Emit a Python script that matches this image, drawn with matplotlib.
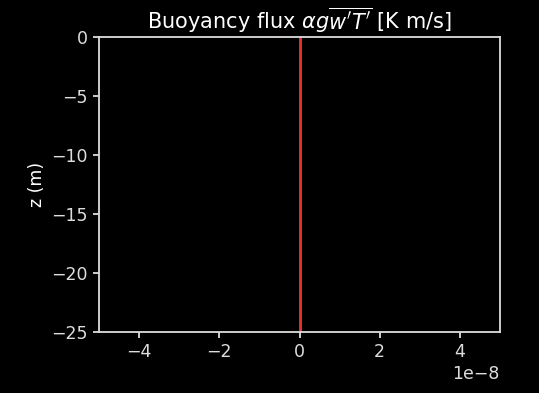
import matplotlib.pyplot as plt
import numpy as np

plt.style.use('dark_background')
plt.rcParams['font.size'] = 12.5

# depth levels and buoyancy flux profile (zero everywhere)
z = [0, -5, -10, -15, -20, -25]
flux_initial = [0, 0, 0, 0, 0, 0]
flux = [0, 0, 0, 0, 0, 0]

fig = plt.figure(figsize=(5.39, 3.93), dpi=100)
ax = fig.add_axes([99 / 539, 61 / 393, 401 / 539, 295 / 393])

ax.plot(flux_initial, z, color='#1f1f6f', lw=2)
ax.plot(flux, z, color='#e0362f', lw=2)

ax.set_xlim(-5e-8, 5e-8)
ax.set_ylim(-25, 0)
ax.set_ylabel('z (m)')
ax.set_title(r"Buoyancy flux $\alpha g \overline{w'T'}$ [K m/s]", fontsize=15)

for s in ax.spines.values():
    s.set_color('#dddddd')
    s.set_linewidth(1.3)
ax.tick_params(colors='#dddddd', width=1.3, length=4.5)

fig.savefig('out.png', dpi=100, facecolor='black')
